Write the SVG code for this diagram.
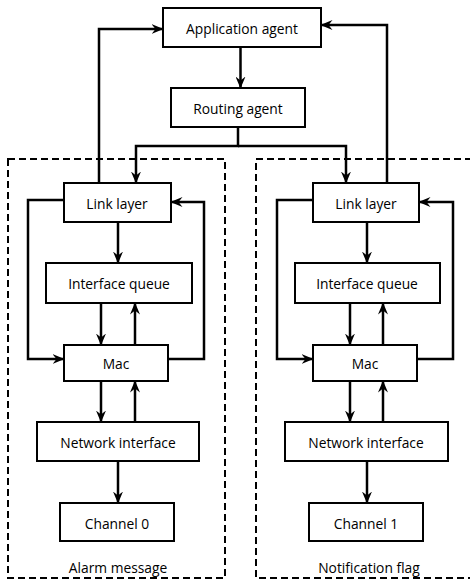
<svg xmlns="http://www.w3.org/2000/svg" width="470" height="580" viewBox="0 0 470 580">
<style>
.box{fill:#fff;stroke:#000;stroke-width:2}
.lbl{font-family:"Open Sans","Liberation Sans",sans-serif;font-size:13.8px;fill:#000;text-anchor:middle;dominant-baseline:central}
.grp{fill:none;stroke:#000;stroke-width:2;stroke-dasharray:7 4}
.c{fill:none;stroke:#000;stroke-width:2.5}
.a{marker-end:url(#ah)}
</style>
<defs>
<marker id="ah" viewBox="0 0 12 10" markerWidth="12" markerHeight="10" refX="11.5" refY="5" orient="auto" markerUnits="userSpaceOnUse">
<path d="M0,0 L12,5 L0,10 L4,5 z" fill="#000"/>
</marker>
</defs>
<g id="groups">
<rect class="grp" x="8" y="159" width="217" height="419"/>
<rect class="grp" x="256" y="159" width="230" height="419"/>
<text class="lbl" x="118" y="567">Alarm message</text>
<text class="lbl" x="369" y="567">Notification flag</text>
</g>
<g id="connectors">
<path class="c a" d="M240.5,47 V88"/>
<path class="c a" d="M238,127 V146 H136 V183"/>
<path class="c a" d="M238,146 H346 V183"/>
<path class="c a" d="M99,183 V29 H163"/>
<path class="c a" d="M387,183 V25 H321"/>
<path class="c a" d="M118,222 V263"/>
<path class="c a" d="M101,303 V345"/>
<path class="c a" d="M135,345 V303"/>
<path class="c a" d="M64,200 H28 V359 H64"/>
<path class="c a" d="M168,359 H204 V202 H171"/>
<path class="c a" d="M101,381 V422"/>
<path class="c a" d="M135,422 V381"/>
<path class="c a" d="M118,461 V503"/>
<path class="c a" d="M367,222 V263"/>
<path class="c a" d="M350,303 V345"/>
<path class="c a" d="M383,345 V303"/>
<path class="c a" d="M313,200 H277 V359 H313"/>
<path class="c a" d="M417,359 H453 V202 H419"/>
<path class="c a" d="M350,381 V422"/>
<path class="c a" d="M383,422 V381"/>
<path class="c a" d="M367,461 V503"/>
</g>
<g id="app"><rect class="box" x="163" y="8" width="158" height="39"/><text class="lbl" x="242" y="28">Application agent</text></g>
<g id="routing"><rect class="box" x="171" y="88" width="134" height="39"/><text class="lbl" x="238" y="108">Routing agent</text></g>
<g id="link0"><rect class="box" x="64" y="183" width="107" height="39"/><text class="lbl" x="117" y="203">Link layer</text></g>
<g id="iq0"><rect class="box" x="46" y="263" width="146" height="40"/><text class="lbl" x="119" y="283">Interface queue</text></g>
<g id="mac0"><rect class="box" x="64" y="345" width="104" height="36"/><text class="lbl" x="116" y="363">Mac</text></g>
<g id="ni0"><rect class="box" x="37" y="422" width="162" height="39"/><text class="lbl" x="118" y="442">Network interface</text></g>
<g id="ch0"><rect class="box" x="60" y="503" width="114" height="38"/><text class="lbl" x="117" y="523">Channel 0</text></g>
<g id="link1"><rect class="box" x="313" y="183" width="106" height="39"/><text class="lbl" x="366" y="203">Link layer</text></g>
<g id="iq1"><rect class="box" x="295" y="263" width="145" height="40"/><text class="lbl" x="367" y="283">Interface queue</text></g>
<g id="mac1"><rect class="box" x="313" y="345" width="104" height="36"/><text class="lbl" x="365" y="363">Mac</text></g>
<g id="ni1"><rect class="box" x="285" y="422" width="163" height="39"/><text class="lbl" x="366" y="442">Network interface</text></g>
<g id="ch1"><rect class="box" x="309" y="503" width="114" height="38"/><text class="lbl" x="366" y="523">Channel 1</text></g>
</svg>
